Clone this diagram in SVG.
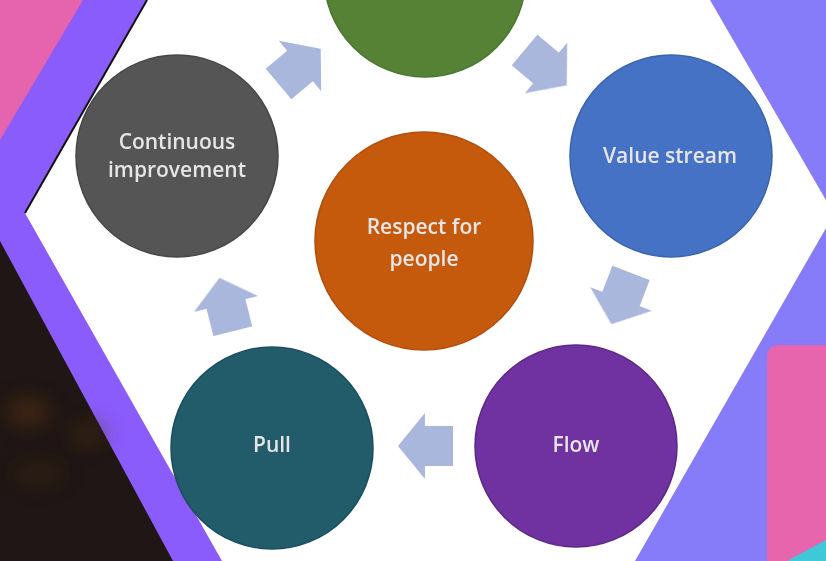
<svg xmlns="http://www.w3.org/2000/svg" width="826" height="561" viewBox="0 0 826 561">
  <style>
    .lbl { font-family: "Open Sans", Lato, "Liberation Sans", sans-serif; font-size: 21px; font-weight: 600; fill: #e6e6e6; text-anchor: middle; }
    .arrow { fill: #aab7dd; }
  </style>
  <defs>
    <path id="blockArrow" d="M27,0 L0,-33 L0,-20 L-28,-20 L-28,20 L0,20 L0,33 Z"/>
    <filter id="glow" x="-50%" y="-50%" width="200%" height="200%">
      <feGaussianBlur stdDeviation="10"/>
    </filter>
    <filter id="soft" x="-5%" y="-5%" width="110%" height="110%">
      <feGaussianBlur stdDeviation="0.6"/>
    </filter>
  </defs>

  <g id="background">
    <!-- left side -->
    <rect x="0" y="0" width="260" height="561" fill="#8b5cfc"/>
    <polygon points="0,0 83,0 0,140" fill="#e663ad"/>
    <polygon points="0,241 173,561 0,561" fill="#1f1615"/>
    <g filter="url(#glow)" opacity="0.55">
      <ellipse cx="28" cy="412" rx="22" ry="14" fill="#5a3508"/>
      <ellipse cx="88" cy="434" rx="18" ry="11" fill="#4a2d0a"/>
      <ellipse cx="38" cy="474" rx="26" ry="11" fill="#3a250d"/>
    </g>
    <!-- right side -->
    <rect x="560" y="0" width="266" height="561" fill="#867bf9"/>
    <rect x="767" y="345" width="90" height="240" rx="11" fill="#e765ac"/>
    <polygon points="787,561 826,540 826,561" fill="#3fc8d7"/>
    <!-- white hexagon -->
    <polygon points="147,0 710,0 834,214 635,561 222,561 25,213" fill="#ffffff"/>
    <line x1="147" y1="0" x2="25" y2="213" stroke="#111111" stroke-width="2"/>
  </g>

  <g id="connectors" filter="url(#soft)">
    <use href="#blockArrow" class="arrow" transform="translate(300,66) rotate(-40)"/>
    <use href="#blockArrow" class="arrow" transform="translate(546,68) rotate(40)"/>
    <use href="#blockArrow" class="arrow" transform="translate(621,299) rotate(111)"/>
    <use href="#blockArrow" class="arrow" transform="translate(425,446) rotate(180)"/>
    <use href="#blockArrow" class="arrow" transform="translate(226,304) rotate(-104)"/>
  </g>

  <g id="node-top" filter="url(#soft)">
    <circle cx="425" cy="-24" r="101" fill="#548235" stroke="#4a7530" stroke-width="1.5"/>
  </g>

  <g id="node-continuous-improvement" filter="url(#soft)">
    <circle cx="177" cy="156" r="101" fill="#545454" stroke="#474747" stroke-width="1.5"/>
    <text class="lbl" x="177" y="149">Continuous</text>
    <text class="lbl" x="177" y="177">improvement</text>
  </g>

  <g id="node-value-stream" filter="url(#soft)">
    <circle cx="671" cy="156" r="101" fill="#4472c4" stroke="#3a63ad" stroke-width="1.5"/>
    <text class="lbl" x="670" y="163">Value stream</text>
  </g>

  <g id="node-respect" filter="url(#soft)">
    <circle cx="424" cy="241" r="109" fill="#c55a11" stroke="#b0500f" stroke-width="1.5"/>
    <text class="lbl" x="424" y="234">Respect for</text>
    <text class="lbl" x="424" y="266">people</text>
  </g>

  <g id="node-pull" filter="url(#soft)">
    <circle cx="272" cy="448" r="101" fill="#215b6b" stroke="#1b4d5b" stroke-width="1.5"/>
    <text class="lbl" x="272" y="452">Pull</text>
  </g>

  <g id="node-flow" filter="url(#soft)">
    <circle cx="576" cy="446" r="101" fill="#7030a0" stroke="#5f2889" stroke-width="1.5"/>
    <text class="lbl" x="576" y="452">Flow</text>
  </g>
</svg>
